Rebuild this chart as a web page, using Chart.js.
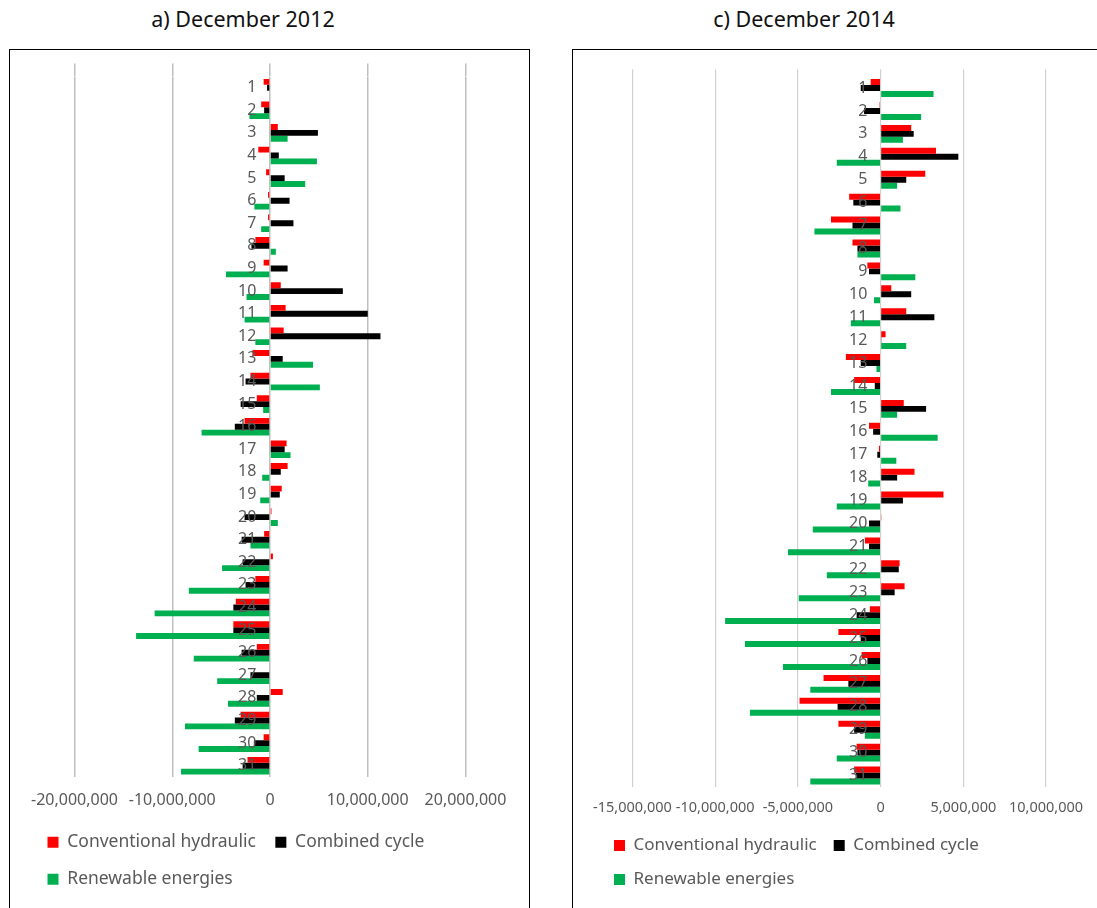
<!DOCTYPE html>
<html>
<head>
<meta charset="utf-8">
<script src="https://cdn.jsdelivr.net/npm/chart.js@4/dist/chart.umd.min.js"></script>
<style>
  html, body { margin: 0; padding: 0; background: #fff; width: 1097px; height: 908px; overflow: hidden; }
  .title { position: absolute; top: 4px; font-family: "Noto Sans", sans-serif; font-size: 21.5px; color: #111; text-align: center; }
  .box { position: absolute; border: 1.5px solid #000; box-sizing: border-box; }
  canvas { position: absolute; }
</style>
</head>
<body>
<div class="title" style="left:93px; width:300px;">a) December 2012</div>
<div class="title" style="left:654px; width:300px;">c) December 2014</div>
<div class="box" style="left:9px; top:49px; width:521px; height:900px;"></div>
<div class="box" style="left:572px; top:49px; width:600px; height:900px;"></div>
<canvas id="c1" width="518" height="855" style="left:10px; top:51px;"></canvas>
<canvas id="c2" width="522" height="855" style="left:575px; top:51px;"></canvas>
<script>
const days = ['1','2','3','4','5','6','7','8','9','10','11','12','13','14','15','16','17','18','19','20','21','22','23','24','25','26','27','28','29','30','31'];
const seriesNames = ['Conventional hydraulic', 'Combined cycle', 'Renewable energies'];

// a) December 2012
const hydraulic2012 = [-650000,-900000,800000,-1200000,-400000,-200000,-200000,-1500000,-650000,1100000,1600000,1400000,-1800000,-2000000,-1350000,-2600000,1700000,1800000,1200000,150000,-600000,300000,-1500000,-3500000,-3750000,-1350000,0,1300000,-3000000,-650000,-2300000];
const combined2012 = [-300000,-600000,4900000,900000,1500000,2000000,2400000,-1900000,1800000,7450000,10000000,11300000,1300000,-2500000,-3000000,-3600000,1500000,1100000,1000000,-2600000,-2900000,-2800000,-2500000,-3750000,-3750000,-2900000,-2000000,-1350000,-3600000,-1650000,-2800000];
const renewable2012 = [0,-2100000,1800000,4800000,3600000,-1600000,-900000,600000,-4500000,-2400000,-2600000,-1500000,4400000,5100000,-700000,-7000000,2100000,-800000,-1000000,800000,-2000000,-4900000,-8300000,-11800000,-13700000,-7800000,-5400000,-4300000,-8700000,-7300000,-9100000];

// c) December 2014
const hydraulic2014 = [-600000,-60000,1850000,3350000,2700000,-1900000,-3000000,-1700000,-800000,650000,1550000,300000,-2100000,-1600000,1400000,-700000,-100000,2050000,3800000,50000,-950000,1150000,1450000,-650000,-2550000,-1150000,-3450000,-4900000,-2550000,-1450000,-1600000];
const combined2014 = [-1200000,-1000000,2000000,4700000,1550000,-1650000,-1700000,-1400000,-700000,1850000,3250000,50000,-1200000,-350000,2750000,-450000,-200000,1000000,1350000,-700000,-700000,1100000,850000,-1450000,-1200000,-800000,-1950000,-2600000,-1600000,-1400000,-1500000];
const renewable2014 = [3200000,2450000,1350000,-2650000,1000000,1200000,-4000000,-1400000,2100000,-400000,-1800000,1550000,-250000,-3000000,1000000,3450000,950000,-750000,-2650000,-4100000,-5600000,-3250000,-4950000,-9400000,-8200000,-5900000,-4250000,-7900000,-950000,-2650000,-4250000];

const xMin2012 = -20000000, xMax2012 = 20000000, xStep2012 = 10000000;
const xMin2014 = -15000000, xMax2014 = 10000000, xStep2014 = 5000000;

const colors = ['#ff0000', '#000000', '#00b050'];
const FONT = '"Noto Sans", sans-serif';

function makeChart(id, series, xr, o) {
  new Chart(document.getElementById(id), {
    type: 'bar',
    data: {
      labels: days,
      datasets: series.map((d, i) => ({
        label: seriesNames[i], data: d, backgroundColor: colors[i], borderWidth: 0,
        barPercentage: 1.0, categoryPercentage: 0.78
      }))
    },
    options: {
      indexAxis: 'y',
      responsive: false,
      animation: false,
      devicePixelRatio: 1,
      layout: { padding: { left: o.legendLeft, right: 0, top: o.top, bottom: o.bottom } },
      plugins: {
        tooltip: { enabled: false },
        legend: {
          position: 'bottom', align: 'start',
          labels: { boxWidth: 11, boxHeight: 11, padding: o.legPad, color: '#595959',
                    font: { family: FONT, size: o.legFont } }
        }
      },
      scales: {
        x: {
          type: 'linear', min: xr[0], max: xr[1],
          ticks: { stepSize: xr[2], color: '#595959', padding: o.tickPad, maxRotation: 0, minRotation: 0,
                   font: { family: FONT, size: o.tickFont },
                   callback: v => Number(v).toLocaleString('en-US') },
          grid: { color: o.gridColor, lineWidth: o.gridWidth, drawTicks: false },
          border: { display: false },
          afterFit: s => { s.paddingLeft = o.areaLeft; s.paddingRight = o.areaRight; s.height = o.axisH; }
        },
        x2: {
          type: 'linear', position: 'top', min: xr[0], max: xr[1],
          ticks: { stepSize: xr[2], display: false },
          grid: { color: o.gridColor, lineWidth: o.gridWidth, drawOnChartArea: false, drawTicks: true, tickLength: o.topExt },
          border: { display: false }
        },
        y: {
          type: 'category', position: { x: o.labelAt },
          grid: { display: false, drawTicks: false },
          border: { display: false },
          ticks: { z: 1, autoSkip: false, color: '#595959', padding: 0, font: { family: FONT, size: 16 } }
        }
      }
    }
  });
}

makeChart('c1', [hydraulic2012, combined2012, renewable2012], [xMin2012, xMax2012, xStep2012],
  { legendLeft: 18, areaLeft: 64.5, areaRight: 62.5, top: 12.4, topExt: 13, bottom: 8, legPad: 19.5, legFont: 17.5,
    tickPad: 14, tickFont: 16, axisH: 37, gridColor: '#bfbfbf', gridWidth: 1.5, labelAt: -1400000 });
makeChart('c2', [hydraulic2014, combined2014, renewable2014], [xMin2014, xMax2014, xStep2014],
  { legendLeft: 22, areaLeft: 57.5, areaRight: 51, top: 18.6, topExt: 7, bottom: 8, legPad: 17, legFont: 17,
    tickPad: 12, tickFont: 14.5, axisH: 33, gridColor: '#d0d0d0', gridWidth: 1.2, labelAt: -800000 });
</script>
</body>
</html>
